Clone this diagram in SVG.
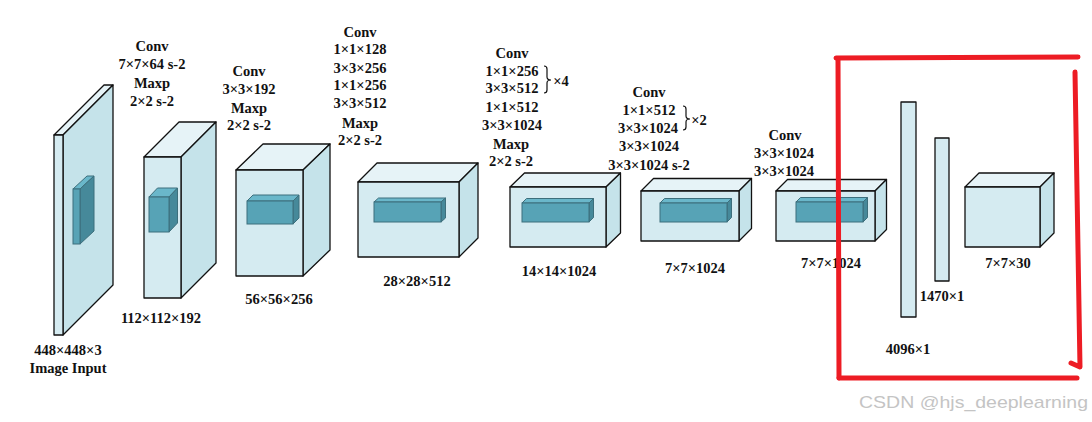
<svg xmlns="http://www.w3.org/2000/svg" width="1092" height="422" viewBox="0 0 1092 422">
<style>
.f{fill:#d5ebf1;stroke:#111;stroke-width:1.3;stroke-linejoin:round}
.t{fill:#e6f3f7;stroke:#111;stroke-width:1.3;stroke-linejoin:round}
.s{fill:#c5e3ea;stroke:#111;stroke-width:1.3;stroke-linejoin:round}
.if{fill:#57a3b6;stroke:#3d6f7c;stroke-width:1}
.it{fill:#6ab7ca;stroke:#3d6f7c;stroke-width:1}
.is{fill:#46899a;stroke:#3d6f7c;stroke-width:1}
.l{font-family:"Liberation Serif","Times New Roman",serif;font-weight:bold;font-size:14.5px;fill:#111;text-anchor:middle}
.br{fill:none;stroke:#111;stroke-width:1.2}
.red{fill:none;stroke:#ed1c24;stroke-width:5;stroke-linecap:round;stroke-linejoin:round}
</style>
<rect width="1092" height="422" fill="#fff"/>

<g id="input">
<polygon class="t" points="54,135 63,135 113,85 104,85"/>
<polygon class="s" points="63,135 113,85 113,285 63,335"/>
<rect class="f" x="54" y="135" width="9" height="200"/>
<polygon class="it" points="73,189 80,189 94,176 87,176"/>
<polygon class="is" points="80,189 94,176 94,231 80,244"/>
<rect class="if" x="73" y="189" width="7" height="55"/>
<text class="l" x="68" y="355">448×448×3</text>
<text class="l" x="68" y="373">Image Input</text>
</g>

<g id="layer1">
<text class="l" x="152" y="51">Conv</text>
<text class="l" x="152" y="69">7×7×64 s-2</text>
<text class="l" x="152" y="88">Maxp</text>
<text class="l" x="152" y="106">2×2 s-2</text>
<polygon class="t" points="144,157 181,157 216,122 179,122"/>
<polygon class="s" points="181,157 216,122 216,263 181,298"/>
<rect class="f" x="144" y="157" width="37" height="141"/>
<polygon class="it" points="149,197 169,197 177.5,188 157.5,188"/>
<polygon class="is" points="169,197 177.5,188 177.5,223 169,232"/>
<rect class="if" x="149" y="197" width="20" height="35"/>
<text class="l" x="161" y="323">112×112×192</text>
</g>

<g id="layer2">
<text class="l" x="249" y="76">Conv</text>
<text class="l" x="249" y="94">3×3×192</text>
<text class="l" x="249" y="113">Maxp</text>
<text class="l" x="249" y="130">2×2 s-2</text>
<polygon class="t" points="236,170 303,170 330,144 263,144"/>
<polygon class="s" points="303,170 330,144 330,250 303,276"/>
<rect class="f" x="236" y="170" width="67" height="106"/>
<polygon class="it" points="247,201 293,201 299,195 253,195"/>
<polygon class="is" points="293,201 299,195 299,218 293,224"/>
<rect class="if" x="247" y="201" width="46" height="23"/>
<text class="l" x="279" y="304">56×56×256</text>
</g>

<g id="layer3">
<text class="l" x="360" y="37">Conv</text>
<text class="l" x="360" y="54">1×1×128</text>
<text class="l" x="360" y="73">3×3×256</text>
<text class="l" x="360" y="90">1×1×256</text>
<text class="l" x="360" y="108">3×3×512</text>
<text class="l" x="360" y="128">Maxp</text>
<text class="l" x="360" y="145">2×2 s-2</text>
<polygon class="t" points="358,182 459,182 478,163 377,163"/>
<polygon class="s" points="459,182 478,163 478,238 459,257"/>
<rect class="f" x="358" y="182" width="101" height="75"/>
<polygon class="it" points="374,202 441,202 445.5,198 378.5,198"/>
<polygon class="is" points="441,202 445.5,198 445.5,218 441,222"/>
<rect class="if" x="374" y="202" width="67" height="20"/>
<text class="l" x="417" y="286">28×28×512</text>
</g>

<g id="layer4">
<text class="l" x="512" y="58">Conv</text>
<text class="l" x="512" y="76">1×1×256</text>
<text class="l" x="512" y="93">3×3×512</text>
<path class="br" d="M544,66 Q547,66 547,69 L547,77 Q547,80 551,80 Q547,80 547,83 L547,90 Q547,93 544,93"/>
<text class="l" x="561" y="86">×4</text>
<text class="l" x="512" y="112">1×1×512</text>
<text class="l" x="512" y="130">3×3×1024</text>
<text class="l" x="511" y="149">Maxp</text>
<text class="l" x="511" y="166">2×2 s-2</text>
<polygon class="t" points="510,187 606,187 620.5,173 524.5,173"/>
<polygon class="s" points="606,187 620.5,173 620.5,233 606,247"/>
<rect class="f" x="510" y="187" width="96" height="60"/>
<polygon class="it" points="522,203 589,203 593.5,198.5 526.5,198.5"/>
<polygon class="is" points="589,203 593.5,198.5 593.5,217.5 589,222"/>
<rect class="if" x="522" y="203" width="67" height="19"/>
<text class="l" x="559" y="276">14×14×1024</text>
</g>

<g id="layer5">
<text class="l" x="649" y="97">Conv</text>
<text class="l" x="649" y="115">1×1×512</text>
<text class="l" x="648" y="133">3×3×1024</text>
<path class="br" d="M683,106 Q686,106 686,109 L686,116 Q686,119 690,119 Q686,119 686,122 L686,127 Q686,130 683,130"/>
<text class="l" x="699" y="125">×2</text>
<text class="l" x="649" y="151">3×3×1024</text>
<text class="l" x="649" y="170">3×3×1024 s-2</text>
<polygon class="t" points="641,191 739,191 751.5,178.5 653.5,178.5"/>
<polygon class="s" points="739,191 751.5,178.5 751.5,228.5 739,241"/>
<rect class="f" x="641" y="191" width="98" height="50"/>
<polygon class="it" points="660,203 727,203 731.5,198.5 664.5,198.5"/>
<polygon class="is" points="727,203 731.5,198.5 731.5,217.5 727,222"/>
<rect class="if" x="660" y="203" width="67" height="19"/>
<text class="l" x="695" y="273">7×7×1024</text>
</g>

<g id="layer6">
<text class="l" x="785" y="140">Conv</text>
<text class="l" x="784" y="158">3×3×1024</text>
<text class="l" x="784" y="176">3×3×1024</text>
<polygon class="t" points="776,191 875,191 886.5,179.5 787.5,179.5"/>
<polygon class="s" points="875,191 886.5,179.5 886.5,229.5 875,241"/>
<rect class="f" x="776" y="191" width="99" height="50"/>
<polygon class="it" points="796,202 863,202 867.5,197.5 800.5,197.5"/>
<polygon class="is" points="863,202 867.5,197.5 867.5,217.5 863,222"/>
<rect class="if" x="796" y="202" width="67" height="20"/>
<text class="l" x="831" y="268">7×7×1024</text>
</g>

<g id="fc1">
<rect class="f" x="901" y="102" width="15" height="215"/>
<text class="l" x="908" y="354">4096×1</text>
</g>

<g id="fc2">
<rect class="f" x="935" y="138" width="14" height="143"/>
<text class="l" x="942" y="301">1470×1</text>
</g>

<g id="output">
<polygon class="t" points="965,187 1040,187 1054,173 979,173"/>
<polygon class="s" points="1040,187 1054,173 1054,233 1040,247"/>
<rect class="f" x="965" y="187" width="75" height="60"/>
<text class="l" x="1008" y="268">7×7×30</text>
</g>

<g id="connectors"></g>

<g id="highlight">
<path class="red" d="M836,58 L1078,57"/>
<path class="red" d="M838,59 L839,378"/>
<path class="red" d="M839,378 L1077,378"/>
<path class="red" d="M1075,72 L1080,367 L1071,363"/>
</g>

<text x="859" y="408" font-family="Liberation Sans, Arial, sans-serif" font-size="17" fill="#c4c4c4" textLength="229" lengthAdjust="spacingAndGlyphs">CSDN @hjs_deeplearning</text>
</svg>
